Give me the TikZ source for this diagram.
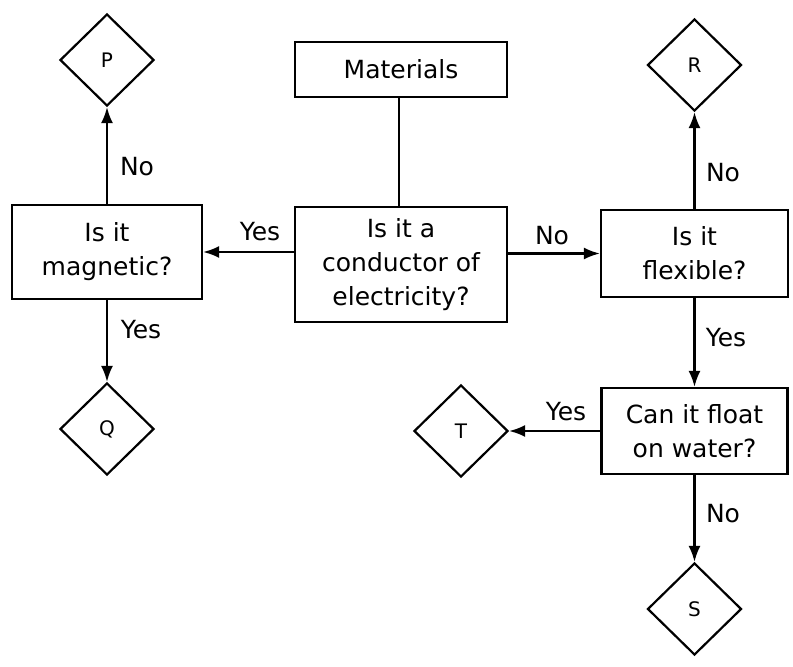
\documentclass[tikz,border=0pt]{standalone}
\usepackage{fontspec}
\setmainfont{DejaVu Sans}
\usetikzlibrary{shapes.geometric,arrows.meta}
\begin{document}
\begin{tikzpicture}[x=1pt,y=-1pt,
  box/.style={draw,line width=2.2pt,rectangle,align=center,inner sep=0pt,font=\fontsize{25}{34}\selectfont},
  dia/.style={draw,line width=2.2pt,diamond,aspect=1,inner sep=0pt,minimum width=94pt,minimum height=92pt,font=\fontsize{20}{22}\selectfont},
  lbl/.style={font=\fontsize{25}{30}\selectfont,inner sep=0pt},
  conn/.style={line width=2.2pt},
  arr/.style={line width=2.2pt,-{Latex[length=16pt,width=12pt]}}]
\useasboundingbox (0,0) rectangle (793,667);
\node[box,minimum width=212pt,minimum height=55pt] (mat) at (401,69.5) {Materials};
\node[box,minimum width=212pt,minimum height=115pt] (cond) at (401,264.5) {Is it a\\conductor of\\electricity?};
\node[box,minimum width=190pt,minimum height=94pt] (mag) at (107,252) {Is it\\magnetic?};
\node[box,minimum width=187pt,minimum height=87pt] (flex) at (694.5,253.5) {Is it\\flexible?};
\node[box,minimum width=186pt,minimum height=86pt] (float) at (694.5,431) {Can it float\\on water?};
\node[dia] (P) at (107,60) {P};
\node[dia] (R) at (694.5,65) {R};
\node[dia] (Q) at (107,429) {Q};
\node[dia] (T) at (461,431) {T};
\node[dia] (S) at (694.5,609) {S};
\draw[conn] (mat.south -| 399,0) -- (cond.north -| 399,0);
\draw[arr] (cond.west |- mag.east) -- (mag.east);
\draw[arr] (cond.east |- flex.west) -- (flex.west);
\draw[arr] (mag.north) -- (P.south);
\draw[arr] (mag.south) -- (Q.north);
\draw[arr] (flex.north) -- (R.south);
\draw[arr] (flex.south) -- (float.north);
\draw[arr] (float.west) -- (T.east);
\draw[arr] (float.south) -- (S.north);
\node[lbl] (l1) at (260,232) {Yes};
\node[lbl] (l2) at (552,236) {No};
\node[lbl] (l3) at (137,167) {No};
\node[lbl] (l4) at (141,330) {Yes};
\node[lbl] (l5) at (723,173) {No};
\node[lbl] (l6) at (726,338) {Yes};
\node[lbl] (l7) at (566,412) {Yes};
\node[lbl] (l8) at (723,514) {No};
\end{tikzpicture}
\end{document}
